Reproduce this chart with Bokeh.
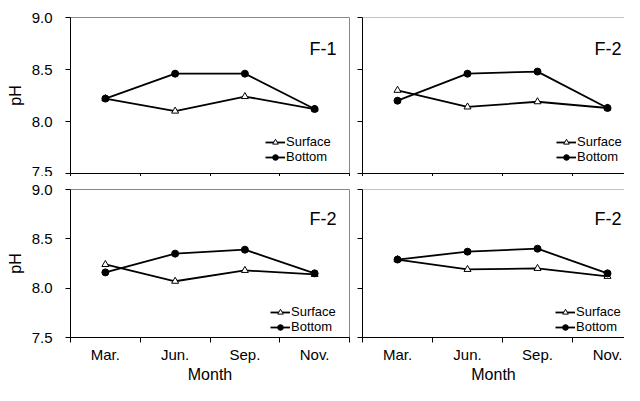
from bokeh.plotting import figure
from bokeh.layouts import column, row
from bokeh.models import FixedTicker, Range1d, Label, Span, NumeralTickFormatter
from bokeh.embed import file_html
from bokeh.resources import INLINE

months = ["Mar.", "Jun.", "Sep.", "Nov."]
y_ticks = [7.5, 8.0, 8.5, 9.0]

title_tl = "F-1"
surface_tl = [8.22, 8.10, 8.24, 8.12]
bottom_tl = [8.22, 8.46, 8.46, 8.12]

title_tr = "F-2"
surface_tr = [8.30, 8.14, 8.19, 8.13]
bottom_tr = [8.20, 8.46, 8.48, 8.13]

title_bl = "F-2"
surface_bl = [8.24, 8.07, 8.18, 8.14]
bottom_bl = [8.16, 8.35, 8.39, 8.15]

title_br = "F-2"
surface_br = [8.29, 8.19, 8.20, 8.12]
bottom_br = [8.29, 8.37, 8.40, 8.15]

FONT = "Liberation Sans"
AXIS_COLOR = "#000000"
BORDER_COLOR = "#888888"


def make_panel(title, surface, bottom, left, is_bottom, legend_x, legend_y, title_x):
    width = 351 if left else 273
    height = 209 if is_bottom else 176
    xmax = 4.0 if left else 262.0 / 70.0
    p = figure(
        width=width, height=height,
        x_range=Range1d(0, xmax), y_range=Range1d(7.5, 9.0),
        output_backend="svg", toolbar_location=None,
        min_border_left=70 if left else 11,
        min_border_right=2 if left else 0,
        min_border_top=13 if is_bottom else 17,
        min_border_bottom=44 if is_bottom else 3,
    )
    p.xgrid.visible = False
    p.ygrid.visible = False
    p.background_fill_color = "white"
    p.border_fill_color = "white"

    xs = [i + 0.5 for i in range(len(months))]

    p.line(xs, surface, line_color="black", line_width=1.8, legend_label="Surface")
    p.scatter(xs, surface, marker="triangle", size=7, fill_color="white",
              line_color="black", line_width=1, legend_label="Surface")
    p.line(xs, bottom, line_color="black", line_width=1.8, legend_label="Bottom")
    p.scatter(xs, bottom, marker="circle", size=7, fill_color="black",
              line_color="black", legend_label="Bottom")

    # x axis
    xa = p.xaxis[0]
    boundaries = list(range(len(months) + 1))
    if is_bottom:
        xa.ticker = FixedTicker(ticks=xs, minor_ticks=boundaries)
        xa.major_label_overrides = {x: m for x, m in zip(xs, months)}
        xa.major_label_text_font = FONT
        xa.major_label_text_font_size = "15px"
        xa.major_label_text_color = "black"
        xa.major_label_standoff = 3
        xa.axis_label = "Month"
        xa.axis_label_text_font = FONT
        xa.axis_label_text_font_size = "16px"
        xa.axis_label_text_font_style = "normal"
        xa.axis_label_text_color = "black"
        xa.axis_label_standoff = 0
        xa.minor_tick_out = 5
    else:
        xa.ticker = FixedTicker(ticks=[], minor_ticks=boundaries)
        xa.major_label_standoff = 0
        xa.minor_tick_out = 3
    xa.major_tick_out = 0
    xa.major_tick_in = 0
    xa.minor_tick_in = 0
    xa.minor_tick_line_color = AXIS_COLOR
    xa.axis_line_color = AXIS_COLOR

    # y axis
    ya = p.yaxis[0]
    ya.axis_line_color = AXIS_COLOR
    if left:
        ya.ticker = FixedTicker(ticks=y_ticks)
        ya.formatter = NumeralTickFormatter(format="0.0")
        ya.major_tick_out = 5
        ya.major_tick_in = 0
        ya.minor_tick_line_color = None
        ya.major_tick_line_color = AXIS_COLOR
        ya.major_label_text_font = FONT
        ya.major_label_text_font_size = "15px"
        ya.major_label_text_color = "black"
        ya.major_label_standoff = 13
        ya.axis_label = "pH"
        ya.axis_label_text_font = FONT
        ya.axis_label_text_font_size = "16px"
        ya.axis_label_text_font_style = "normal"
        ya.axis_label_text_color = "black"
        ya.axis_label_standoff = 5
    else:
        ya.ticker = FixedTicker(ticks=[], minor_ticks=y_ticks)
        ya.minor_tick_out = 5
        ya.minor_tick_in = 0
        ya.minor_tick_line_color = AXIS_COLOR
        ya.major_label_standoff = 0

    if left:
        p.outline_line_color = BORDER_COLOR
        p.outline_line_width = 1
    else:
        p.outline_line_color = None
        p.add_layout(Span(location=9.0, dimension="width", line_color=BORDER_COLOR, line_width=1))

    p.add_layout(Label(x=title_x, y=8.70, text=title, text_align="right",
                       text_baseline="alphabetic", text_font=FONT,
                       text_font_size="18px", text_color="black"))

    lg = p.legend[0]
    lg.location = (legend_x, legend_y)
    lg.label_text_font = FONT
    lg.label_text_font_size = "13px"
    lg.label_text_color = "black"
    lg.label_height = 14
    lg.glyph_height = 14
    lg.glyph_width = 20
    lg.label_standoff = 1
    lg.spacing = 0
    lg.padding = 0
    lg.margin = 0
    lg.border_line_color = None
    lg.background_fill_alpha = 0
    return p


p_tl = make_panel(title_tl, surface_tl, bottom_tl, True, False, 195, 9, 3.814)
p_tr = make_panel(title_tr, surface_tr, bottom_tr, False, False, 194, 9, 3.70)
p_bl = make_panel(title_bl, surface_bl, bottom_bl, True, True, 200, 3, 3.814)
p_br = make_panel(title_br, surface_br, bottom_br, False, True, 193, 3, 3.70)

layout = column(row(p_tl, p_tr, spacing=0), row(p_bl, p_br, spacing=0), spacing=0)

with open("out.html", "w") as f:
    f.write(file_html(layout, INLINE))
